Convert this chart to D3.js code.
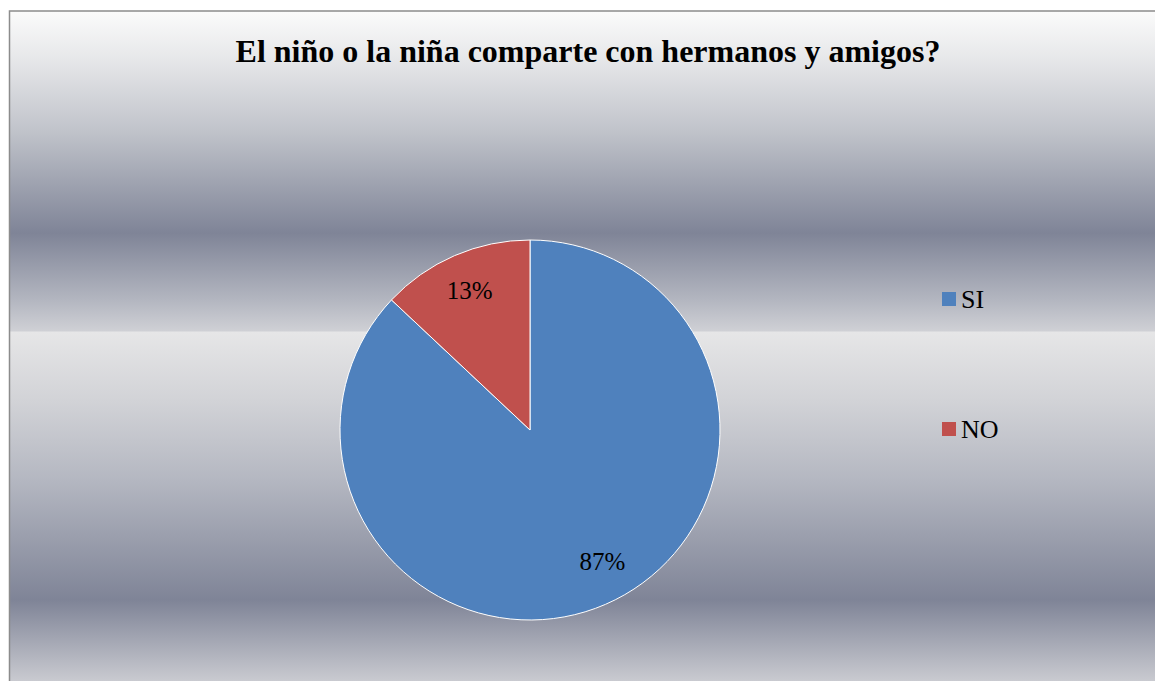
<!DOCTYPE html>
<html>
<head>
<meta charset="utf-8">
<script src="https://cdn.jsdelivr.net/npm/d3@7"></script>
<style>
  body { margin: 0; background: #fff; }
  svg { display: block; }
  text { font-family: "Liberation Serif", "DejaVu Serif", serif; }
</style>
</head>
<body>
<div id="chart"></div>
<script>
// datos de la encuesta
var categories = ["SI", "NO"];
var values = [87, 13];
var colors = ["#4f81bd", "#c0504d"];
var title = "El niño o la niña comparte con hermanos y amigos?";

var width = 1155;
var height = 681;
var cx = 530, cy = 430, radius = 190;

var svg = d3.select("#chart")
  .append("svg")
  .attr("width", width)
  .attr("height", height);

// fondo plateado (bandas horizontales)
var grad = svg.append("defs")
  .append("linearGradient")
  .attr("id", "silver")
  .attr("gradientUnits", "userSpaceOnUse")
  .attr("x1", 0).attr("y1", 11)
  .attr("x2", 0).attr("y2", 681);

var stops = [
  [11, "#fbfbfb"], [60, "#e6e7e9"], [130, "#c1c4cb"], [233, "#7f8497"],
  [300, "#b3b6c0"], [331, "#cfd0d5"], [332, "#e6e6e7"], [400, "#d2d3d7"],
  [480, "#b4b7c1"], [600, "#7f8497"], [681, "#c9cad0"]
];
grad.selectAll("stop")
  .data(stops)
  .enter()
  .append("stop")
  .attr("offset", function(d) { return (d[0] - 11) / (681 - 11); })
  .attr("stop-color", function(d) { return d[1]; });

svg.append("rect")
  .attr("x", 9.5)
  .attr("y", 11)
  .attr("width", width + 10)
  .attr("height", height + 10)
  .attr("fill", "url(#silver)")
  .attr("stroke", "#8c8c8c")
  .attr("stroke-width", 1.5);

svg.append("text")
  .attr("x", 588)
  .attr("y", 62)
  .attr("text-anchor", "middle")
  .attr("font-weight", "bold")
  .attr("font-size", 32)
  .attr("fill", "#000")
  .text(title);

var pie = d3.pie().sort(null).value(function(d) { return d; });
var arc = d3.arc().innerRadius(0).outerRadius(radius);
var labelArc = d3.arc().innerRadius(radius * 0.8).outerRadius(radius * 0.8);

var g = svg.append("g").attr("transform", "translate(" + cx + "," + cy + ")");

var slices = pie(values);

g.selectAll("path")
  .data(slices)
  .enter()
  .append("path")
  .attr("d", arc)
  .attr("fill", function(d, i) { return colors[i]; })
  .attr("stroke", "#ffffff")
  .attr("stroke-width", 1);

g.selectAll(".lbl")
  .data(slices)
  .enter()
  .append("text")
  .attr("class", "lbl")
  .attr("transform", function(d) {
    var c = labelArc.centroid(d);
    // la etiqueta grande queda un poco más hacia el centro
    if (d.endAngle - d.startAngle > Math.PI) { c = [c[0] * 0.95 + 15, c[1] * 0.94]; }
    return "translate(" + c + ")";
  })
  .attr("dy", "0.35em")
  .attr("text-anchor", "middle")
  .attr("font-size", 25)
  .attr("fill", "#000")
  .text(function(d) { return d.data + "%"; });

// leyenda
var legend = svg.append("g");
var ly = d3.scalePoint().domain(categories).range([299, 429]);

legend.selectAll("rect")
  .data(categories)
  .enter()
  .append("rect")
  .attr("x", 942)
  .attr("y", function(d) { return ly(d) - 7; })
  .attr("width", 14)
  .attr("height", 14)
  .attr("fill", function(d, i) { return colors[i]; });

legend.selectAll("text")
  .data(categories)
  .enter()
  .append("text")
  .attr("x", 961)
  .attr("y", function(d) { return ly(d) + 9; })
  .attr("font-size", 26)
  .attr("fill", "#000")
  .text(function(d) { return d; });
</script>
</body>
</html>
